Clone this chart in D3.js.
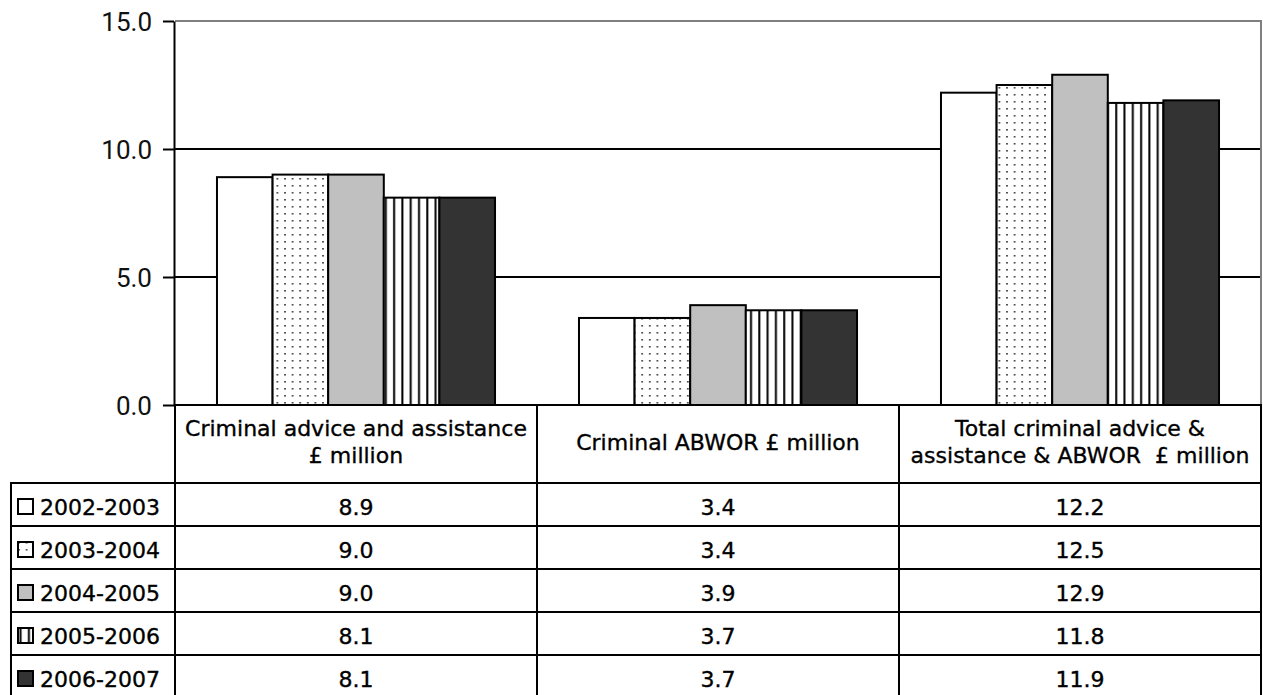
<!DOCTYPE html>
<html>
<head>
<meta charset="utf-8">
<script src="https://cdn.jsdelivr.net/npm/d3@7"></script>
<style>
	body { margin: 0; background: #fff; }
	svg { display: block; }
	.cell { font-family: "DejaVu Sans", sans-serif; font-size: 22px; fill: #000; stroke: #000; stroke-width: 0.35px; white-space: pre; }
	.yAxis text { font-family: Roboto, sans-serif; font-size: 26px; fill: #111; }
</style>
</head>
<body>
<div id="chart"></div>
<script>
var categories = [ "Criminal advice and assistance £ million", "Criminal ABWOR £ million", "Total criminal advice & assistance & ABWOR  £ million" ];
var headerLines = [
	[ "Criminal advice and assistance", "£ million" ],
	[ "Criminal ABWOR £ million" ],
	[ "Total criminal advice &", "assistance & ABWOR  £ million" ]
];
var years = [ "2002-2003", "2003-2004", "2004-2005", "2005-2006", "2006-2007" ];

var v2002 = [ 8.9, 3.4, 12.2 ];
var v2003 = [ 9.0, 3.4, 12.5 ];
var v2004 = [ 9.0, 3.9, 12.9 ];
var v2005 = [ 8.1, 3.7, 11.8 ];
var v2006 = [ 8.1, 3.7, 11.9 ];
var series = [ v2002, v2003, v2004, v2005, v2006 ];

var yTicks = [ 0, 5, 10, 15 ];

var fills = [ "#ffffff", "url(#dots)", "#c0c0c0", "url(#stripes)", "#333333" ];

var svg = d3.select("#chart")
	.append("svg")
	.attr("width", 1263)
	.attr("height", 695)
;

var margin = {top: 21, left: 175, right: 1261, bottom: 405};

// patterns
var defs = svg.append("defs");
var dots = defs.append("pattern")
	.attr("id", "dots")
	.attr("patternUnits", "userSpaceOnUse")
	.attr("width", 7.6)
	.attr("height", 7)
;
dots.append("rect").attr("width", 7.6).attr("height", 7).attr("fill", "#fff");
dots.append("rect").attr("x", 3).attr("y", 3).attr("width", 1.6).attr("height", 1.6).attr("fill", "#333");

var stripes = defs.append("pattern")
	.attr("id", "stripes")
	.attr("patternUnits", "userSpaceOnUse")
	.attr("width", 8.3)
	.attr("height", 10)
;
stripes.append("rect").attr("width", 8.3).attr("height", 10).attr("fill", "#fff");
stripes.append("rect").attr("x", 3).attr("width", 2).attr("height", 10).attr("fill", "#000");

var x = d3.scaleBand()
	.domain(categories)
	.range([margin.left, margin.right]);

var x1 = d3.scaleBand()
	.domain(years)
	.range([0, x.bandwidth()])
	.paddingOuter(0.755);

var y = d3.scaleLinear()
	.domain([0, 15])
	.range([margin.bottom, margin.top]);

// gridlines
svg.append("g")
	.selectAll("line")
	.data([5, 10])
	.enter().append("line")
		.attr("x1", margin.left)
		.attr("x2", margin.right)
		.attr("y1", (d) => y(d))
		.attr("y2", (d) => y(d))
		.attr("stroke", "#000")
		.attr("stroke-width", 2)
;

// plot frame top/right
svg.append("path")
	.attr("d", "M" + margin.left + "," + y(15) + "H" + margin.right + "V" + y(0))
	.attr("fill", "none")
	.attr("stroke", "#808080")
	.attr("stroke-width", 2)
;

// bars
var groups = svg.append("g")
	.selectAll("g")
	.data(years)
	.enter().append("g")
;

groups.selectAll("rect")
	.data((yr, si) => series[si].map((v, ci) => ({ year: yr, si: si, cat: categories[ci], v: v })))
	.enter().append("rect")
		.attr("x", (d) => x(d.cat) + x1(d.year))
		.attr("y", (d) => y(d.v))
		.attr("width", x1.bandwidth())
		.attr("height", (d) => y(0) - y(d.v))
		.attr("fill", (d) => fills[d.si])
		.attr("stroke", "#000")
		.attr("stroke-width", 2)
;

// y axis
var yAxis = svg.append("g")
	.attr("class", "yAxis")
	.attr("transform", "translate(" + (margin.left - 1) + ",0)")
	.call(d3.axisLeft(y).tickValues(yTicks).tickFormat(d3.format(".1f")).tickSize(11).tickSizeOuter(0))
;
yAxis.select(".domain").attr("stroke", "#000").attr("stroke-width", 2);
yAxis.selectAll(".tick line").attr("stroke", "#000").attr("stroke-width", 2);
yAxis.selectAll(".tick text").attr("x", -22).attr("dy", "0.36em");

// data table
var headTop = y(0);
var headBottom = 483;
var rowH = 43;
var legendLeft = 11;

var table = svg.append("g");

// header cells
table.selectAll(".head")
	.data(categories)
	.enter().append("rect")
		.attr("class", "head")
		.attr("x", (d) => x(d))
		.attr("y", headTop)
		.attr("width", x.step())
		.attr("height", headBottom - headTop)
		.attr("fill", "none")
		.attr("stroke", "#000")
		.attr("stroke-width", 2)
;

categories.forEach(function(c, ci) {
	var lines = headerLines[ci];
	var mid = (headTop + headBottom) / 2 - 2;
	var lh = 27;
	var t = table.append("text")
		.attr("class", "cell")
		.attr("text-anchor", "middle")
	;
	lines.forEach(function(l, li) {
		t.append("tspan")
			.attr("x", x(c) + x.bandwidth() / 2)
			.attr("y", mid + (li - (lines.length - 1) / 2) * lh)
			.attr("dy", "0.36em")
			.text(l);
	});
});

// rows
years.forEach(function(yr, si) {
	var top = headBottom + si * rowH;
	var row = table.append("g");

	row.append("rect")
		.attr("x", legendLeft)
		.attr("y", top)
		.attr("width", margin.left - legendLeft)
		.attr("height", rowH)
		.attr("fill", "none")
		.attr("stroke", "#000")
		.attr("stroke-width", 2)
	;

	row.append("rect")
		.attr("x", 18)
		.attr("y", top + rowH / 2 - 7.5 + 2)
		.attr("width", 15)
		.attr("height", 15)
		.attr("fill", fills[si])
		.attr("stroke", "#000")
		.attr("stroke-width", 2)
	;

	row.append("text")
		.attr("class", "cell")
		.attr("x", 40)
		.attr("y", top + rowH / 2 + 3)
		.attr("dy", "0.36em")
		.text(yr)
	;

	row.selectAll(".val")
		.data(series[si])
		.enter().append("rect")
			.attr("x", (d, ci) => x(categories[ci]))
			.attr("y", top)
			.attr("width", x.step())
			.attr("height", rowH)
			.attr("fill", "none")
			.attr("stroke", "#000")
			.attr("stroke-width", 2)
	;

	row.selectAll(".valText")
		.data(series[si])
		.enter().append("text")
			.attr("class", "cell")
			.attr("text-anchor", "middle")
			.attr("x", (d, ci) => x(categories[ci]) + x.bandwidth() / 2)
			.attr("y", top + rowH / 2 + 3)
			.attr("dy", "0.36em")
			.text((d) => d.toFixed(1))
	;
});
</script>
</body>
</html>
